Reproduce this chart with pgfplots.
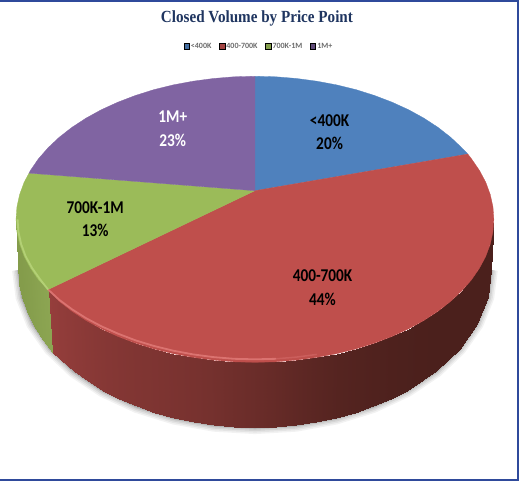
\documentclass[border=0pt]{standalone}
\usepackage{graphicx}
\usepackage{pgfplots}
\pgfplotsset{compat=1.18}
\usepackage{pgfplotstable}
\usepackage{fontspec}
\setmainfont{Carlito}
\newfontfamily\titlefont{Liberation Serif}
\definecolor{cblue}{HTML}{4F81BD}
\definecolor{cred}{HTML}{BF4F4C}
\definecolor{cgreen}{HTML}{9BBB59}
\definecolor{cpurple}{HTML}{8064A2}
\definecolor{frame}{HTML}{2F4A9B}
\definecolor{ctitle}{HTML}{1F3560}
\definecolor{rimred}{HTML}{E27C7A}
\definecolor{rimgreen}{HTML}{BAD67C}
\pgfplotsset{
 colormap={redwall}{rgb255=(75,32,28) rgb255=(150,62,60)},
 colormap={greenwall}{rgb255=(126,150,70) rgb255=(140,165,82)},
}
\newcommand{\lab}[1]{\scalebox{0.85}[1]{\fontsize{18}{20}\selectfont\bfseries #1}}
\pgfplotstableread{
x y m
493 218.5 0
490.5 269 0
489.4 243.2 0
486.9 296.3 0
478.6 267.2 0
476.3 322.7 0
461 289.75 0
458.9 347.5 0
437.2 310.1 0
435.3 369.9 0
407.8 327.7 0.02
406.2 389.3 0.02
391.3 335.2 0.04
389.9 397.6 0.04
373.75 341.9 0.07
372.5 405 0.07
355.3 347.7 0.1
354.2 411.3 0.1
336.1 352.4 0.14
335.2 416.5 0.14
316.2 356.1 0.2
315.6 420.6 0.2
295.9 358.8 0.27
295.5 423.6 0.27
275.3 360.5 0.35
275.1 425.4 0.35
254.5 361 0.42
254.5 426 0.42
233.7 360.5 0.48
233.9 425.4 0.48
213.1 358.8 0.55
213.5 423.6 0.55
192.8 356.1 0.6
193.4 420.6 0.6
172.9 352.4 0.64
173.8 416.5 0.64
153.7 347.7 0.68
154.8 411.3 0.68
135.25 341.9 0.71
136.5 405 0.71
117.7 335.2 0.75
119.1 397.6 0.75
101.2 327.7 0.79
102.8 389.3 0.79
85.9 319.3 0.84
87.6 380 0.84
71.8 310.1 0.89
73.7 369.9 0.89
59.1 300.2 0.94
61.2 359.1 0.94
48 288.5 1
52 351 1
}\redwall
\pgfplotstableread{
x y m
48 288.5 1
52 351 1
38.3 278.7 0.8
40.6 335.3 0.8
30.4 267.2 0.6
32.7 322.7 0.6
24.1 255.4 0.5
26.5 309.6 0.5
19.6 243.2 0.4
22.1 296.3 0.4
16.9 230.9 0.4
19.4 282.7 0.4
16 218.5 0.4
18.5 269 0.4
}\greenwall
\begin{document}
\begin{tikzpicture}
\begin{axis}[
  scale only axis, width=519bp, height=481bp,
  xmin=0, xmax=520, ymin=0, ymax=481, y dir=reverse,
  axis lines=none, clip=true,
  point meta min=0, point meta max=1,
  legend style={at={(axis cs:257.5,46)}, anchor=center, draw=none, fill=none,
    font=\fontsize{8}{9}\selectfont\bfseries\color{black!58},
    inner sep=0pt, outer sep=0pt,
    nodes={inner sep=0pt, outer sep=0pt}},
  legend columns=-1,
  legend cell align=left,
  legend image code/.code={\fill[#1] (0bp,-2.8bp) rectangle (5.5bp,2.8bp);},
  /tikz/every odd column/.append style={column sep=1.5bp},
  /tikz/every even column/.append style={column sep=7.5bp},
]
\addlegendimage{fill=cblue!85!black}\addlegendentry{<400K}
\addlegendimage{fill=cred!85!black}\addlegendentry{400-700K}
\addlegendimage{fill=cgreen!85!black}\addlegendentry{700K-1M}
\addlegendimage{fill=cpurple!75!black}\addlegendentry{1M+}
% frame (top, right and bottom edges)
\addplot[draw=frame, line width=2.2bp, forget plot] coordinates {(0,1) (517,1) (517,478.6) (0,478.6)};
% soft shadow under the base
\foreach \w/\o in {13/0.05, 10/0.06, 7/0.07, 4/0.09, 2/0.12}{
\edef\temp{\noexpand\addplot[draw=black, opacity=\o, line width=\w bp, forget plot] coordinates {(490.5,269) (486.9,296.3) (476.3,322.7) (458.9,347.5) (435.3,369.9) (406.2,389.3) (372.5,405) (335.2,416.5) (295.5,423.6) (254.5,426) (213.5,423.6) (173.8,416.5) (136.5,405) (102.8,389.3) (73.7,369.9) (50.1,347.5) (32.7,322.7) (22.1,296.3) (18.5,269)};}\temp
}
% walls
\addplot[surf, shader=interp, colormap name=redwall, mesh/cols=2, point meta=explicit, forget plot] table[x=x, y=y, meta=m] {\redwall};
\addplot[surf, shader=interp, colormap name=greenwall, mesh/cols=2, point meta=explicit, forget plot] table[x=x, y=y, meta=m] {\greenwall};
% top faces
\addplot[fill=cblue, draw=cblue, line width=0.3pt, forget plot] coordinates {(254.5,190) (254.5,76) (275.3,76.5) (295.9,78.2) (316.2,80.9) (336.1,84.6) (355.3,89.3) (373.75,95.1) (391.3,101.8) (407.8,109.3) (423.1,117.7) (437.2,126.9) (449.9,136.8) (461,147.25) (467,153.5)} -- cycle;
\addplot[fill=cred, draw=cred, line width=0.3pt, forget plot] coordinates {(254.5,190) (467,153.5) (470.7,158.3) (478.6,169.8) (484.9,181.6) (489.4,193.8) (492.1,206.1) (493,218.5) (492.1,230.9) (489.4,243.2) (484.9,255.4) (478.6,267.2) (470.7,278.7) (461,289.75) (449.9,300.2) (437.2,310.1) (423.1,319.3) (407.8,327.7) (391.3,335.2) (373.75,341.9) (355.3,347.7) (336.1,352.4) (316.2,356.1) (295.9,358.8) (275.3,360.5) (254.5,361) (233.7,360.5) (213.1,358.8) (192.8,356.1) (172.9,352.4) (153.7,347.7) (135.25,341.9) (117.7,335.2) (101.2,327.7) (85.9,319.3) (71.8,310.1) (59.1,300.2) (48,288.5)} -- cycle;
\addplot[fill=cgreen, draw=cgreen, line width=0.3pt, forget plot] coordinates {(254.5,190) (48,288.5) (38.3,278.7) (30.4,267.2) (24.1,255.4) (19.6,243.2) (16.9,230.9) (16,218.5) (16.9,206.1) (19.6,193.8) (24.1,181.6) (29,172.5)} -- cycle;
\addplot[fill=cpurple, draw=cpurple, line width=0.3pt, forget plot] coordinates {(254.5,190) (29,172.5) (30.4,169.8) (38.3,158.3) (48,147.25) (59.1,136.8) (71.8,126.9) (85.9,117.7) (101.2,109.3) (117.7,101.8) (135.25,95.1) (153.7,89.3) (172.9,84.6) (192.8,80.9) (213.1,78.2) (233.7,76.5) (254.5,76)} -- cycle;
% rim highlight, a little inside the edge
\addplot[draw=rimred, opacity=0.35, line width=1.5bp, forget plot] coordinates {(316.2,353.1) (295.9,355.8) (275.3,357.5)};
\addplot[draw=rimred, opacity=0.8, line width=1.8bp, forget plot] coordinates {(275.3,357.5) (254.5,358) (233.7,357.5) (213.1,355.8) (192.8,353.1) (172.9,349.4) (153.7,344.7) (135.25,339.1) (117.7,332.4) (101.2,325.1) (85.9,317) (71.8,308.1) (59.1,298.7) (48,288.5)};
\addplot[draw=rimgreen, opacity=0.8, line width=1.8bp, forget plot] coordinates {(48,288.5) (39.8,278) (32,267) (25.6,255.4) (21.1,243.2) (18.4,230.9) (17.5,218.5)};
% texts
\node[font=\titlefont\bfseries, text=ctitle] at (axis cs:256.5,18.5) {\scalebox{0.89}[1]{\fontsize{17}{19}\selectfont\bfseries Closed Volume by Price Point}};
\node at (axis cs:329,120) {\lab{<400K}};
\node at (axis cs:329,143) {\lab{20\%}};
\node at (axis cs:322,275) {\lab{400-700K}};
\node at (axis cs:322,298) {\lab{44\%}};
\node at (axis cs:95,207) {\lab{700K-1M}};
\node at (axis cs:95,230) {\lab{13\%}};
\node[text=white] at (axis cs:172.5,116) {\lab{1M+}};
\node[text=white] at (axis cs:172.5,139.5) {\lab{23\%}};
\end{axis}
\end{tikzpicture}
\end{document}
